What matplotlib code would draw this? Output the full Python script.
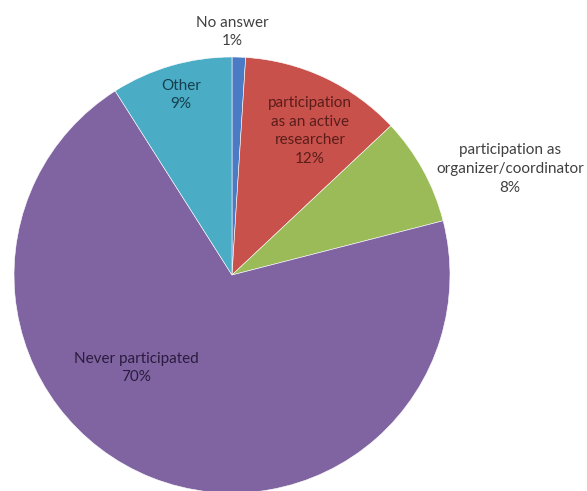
import matplotlib.pyplot as plt

labels = ['No answer', 'participation\nas an active\nresearcher', 'participation as\norganizer/coordinator',
          'Never participated', 'Other']
shares = [1, 12, 8, 70, 9]
colors = ['#4A7BC4', '#C9514B', '#9BBB59', '#8064A2', '#4BACC6']
text_colors = ['#404040', '#5A1D1A', '#404040', '#2A1C3E', '#153F4C']
# label positions in pixels (x, y from top)
label_pos = [(232, 32), (310, 131), (510, 169), (136, 368), (181, 95)]

W, H = 587, 491
fig = plt.figure(figsize=(W / 100, H / 100), dpi=100)
ax = fig.add_axes([0, 0, 1, 1])
plt.rcParams['font.family'] = ['Lato', 'DejaVu Sans']

ax.pie(shares, colors=colors, startangle=90, counterclock=False,
       center=(232, H - 275), radius=218,
       wedgeprops=dict(edgecolor='white', linewidth=0.4))
ax.set_xlim(0, W)
ax.set_ylim(0, H)
ax.set_aspect('equal')
ax.axis('off')

for lab, val, (x, y), tc in zip(labels, shares, label_pos, text_colors):
    ax.text(x, H - y, f'{lab}\n{val}%', ha='center', va='center', fontsize=11,
            color=tc, linespacing=1.45, family=['Lato', 'DejaVu Sans'])

plt.savefig('out.png', dpi=100)
plt.close()
